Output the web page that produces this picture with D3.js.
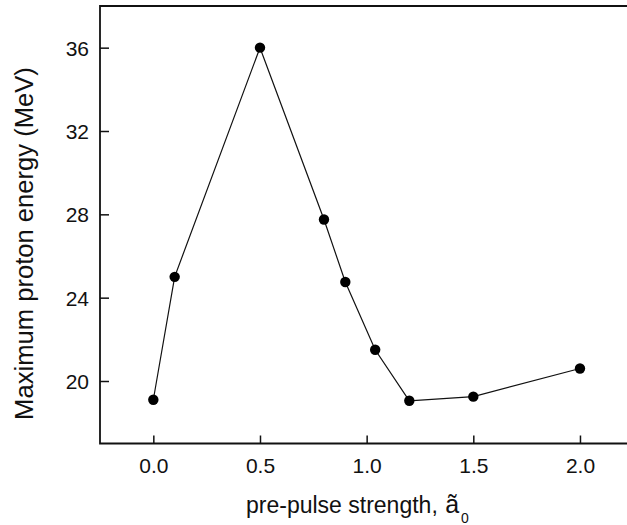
<!DOCTYPE html>
<html>
<head>
<meta charset="utf-8">
<script src="https://cdn.jsdelivr.net/npm/d3@7"></script>
<style>
  body { margin: 0; background: #fff; }
  text { font-family: "Liberation Sans", Arial, sans-serif; fill: #111; }
</style>
</head>
<body>
<div class="canvas"></div>
<script>
// pre-pulse strength vs maximum proton energy
const prePulse = [0.0, 0.1, 0.5, 0.8, 0.9, 1.04, 1.2, 1.5, 2.0];
const maxEnergy = [19.1, 25.0, 36.0, 27.75, 24.75, 21.5, 19.05, 19.25, 20.6];
const xTicks = [0.0, 0.5, 1.0, 1.5, 2.0];
const yTicks = [20, 24, 28, 32, 36];

const W = 627, H = 525;
const svg = d3.select('.canvas')
  .append('svg')
  .attr('width', W)
  .attr('height', H);

const padL = 100, padT = 6, padB = 443.5;

const x = d3.scaleLinear().domain([-0.25, 2.25]).range([padL, padL + 533.3]);
const y = d3.scaleLinear().domain([17, 38]).range([padB, padT]);

// frame (right side falls off the picture)
svg.append('path')
  .attr('d', `M${x.range()[1]},${padT}H${padL}V${padB}H${x.range()[1]}`)
  .attr('fill', 'none')
  .attr('stroke', '#111')
  .attr('stroke-width', 1.8);

// x axis, ticks pointing in
const xAxis = svg.append('g')
  .attr('transform', `translate(0, ${padB})`)
  .call(d3.axisBottom(x).tickValues(xTicks).tickFormat(d3.format('.1f'))
    .tickSizeInner(-8).tickSizeOuter(0).tickPadding(0));
xAxis.select('.domain').remove();
xAxis.selectAll('.tick line').attr('stroke', '#111').attr('stroke-width', 1.5);
xAxis.selectAll('.tick text')
  .attr('y', 29).attr('dy', 0)
  .style('font-size', '21px')
  .attr('font-family', null);

// y axis
const yAxis = svg.append('g')
  .attr('transform', `translate(${padL}, 0)`)
  .call(d3.axisLeft(y).tickValues(yTicks)
    .tickSizeInner(-9).tickSizeOuter(0).tickPadding(0));
yAxis.select('.domain').remove();
yAxis.selectAll('.tick line').attr('stroke', '#111').attr('stroke-width', 1.5);
yAxis.selectAll('.tick text')
  .attr('x', -11).attr('dy', '0.36em')
  .style('font-size', '21px')
  .attr('font-family', null);

// line + markers
const pts = prePulse.map((v, i) => [v, maxEnergy[i]]);
svg.append('path')
  .datum(pts)
  .attr('fill', 'none')
  .attr('stroke', '#111')
  .attr('stroke-width', 1.2)
  .attr('d', d3.line().x(d => x(d[0])).y(d => y(d[1])));

svg.selectAll('circle.pt')
  .data(pts)
  .enter().append('circle')
  .attr('class', 'pt')
  .attr('cx', d => x(d[0]))
  .attr('cy', d => y(d[1]))
  .attr('r', 5.2)
  .attr('fill', '#000');

// axis titles
svg.append('text')
  .attr('transform', `translate(33, 243.5) rotate(-90)`)
  .attr('text-anchor', 'middle')
  .style('font-size', '25.6px')
  .text('Maximum proton energy (MeV)');

const xt = svg.append('text')
  .attr('x', 246)
  .attr('y', 512.5)
  .style('font-size', '23px');
xt.append('tspan').text('pre-pulse strength, ');
xt.append('tspan').attr('dx', 1).style('font-size', '25px').text('ã');
xt.append('tspan').attr('dx', 2).attr('dy', 10).style('font-size', '14px').text('0');
</script>
</body>
</html>
